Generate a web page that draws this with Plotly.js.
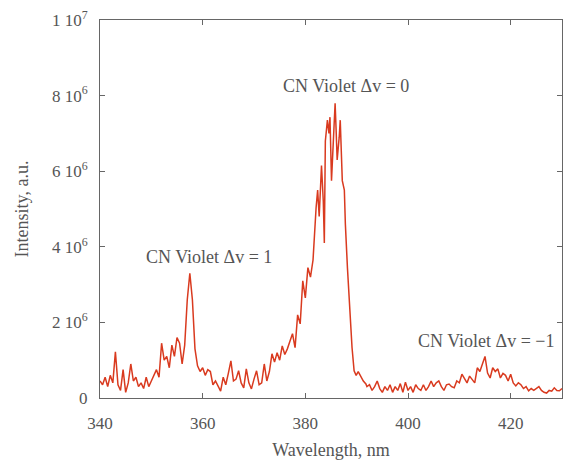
<!DOCTYPE html>
<html>
<head>
<meta charset="utf-8">
<script src="https://cdn.plot.ly/plotly-3.0.1.min.js"></script>
<style>html,body{margin:0;padding:0;background:#fff}#chart{width:566px;height:464px}</style>
</head>
<body>
<div id="chart"></div>
<script>
// Wavelength (nm)
var wavelength = [
340.0,340.5,341.0,341.5,342.0,342.5,343.0,343.5,344.0,344.5,345.0,345.5,346.0,346.5,347.0,347.5,348.0,348.5,349.0,349.5,
350.0,350.5,351.0,351.5,352.0,352.5,353.0,353.5,354.0,354.5,355.0,355.5,356.0,356.5,357.0,357.5,358.0,358.5,359.0,359.5,
360.0,360.5,361.0,361.5,362.0,362.5,363.0,363.5,364.0,364.5,365.0,365.5,366.0,366.5,367.0,367.5,368.0,368.5,369.0,369.5,
370.0,370.5,371.0,371.5,372.0,372.5,373.0,373.5,374.0,374.5,375.0,375.5,376.0,376.5,377.0,377.5,378.0,378.5,379.0,379.5,
380.0,380.5,381.0,381.5,382.1,382.4,382.7,383.0,383.15,383.5,383.7,383.9,384.3,384.6,384.8,385.1,385.4,385.8,386.0,386.2,
386.6,386.8,387.0,387.2,387.6,387.8,388.2,388.7,389.1,389.5,389.9,390.3,390.6,391.0,391.3,391.8,
392.0,392.5,393.0,393.5,394.0,394.5,395.0,395.5,396.0,396.5,397.0,397.5,398.0,398.5,399.0,399.5,
400.0,400.5,401.0,401.5,402.0,402.5,403.0,403.5,404.0,404.5,405.0,405.5,406.0,406.5,407.0,407.5,408.0,408.5,409.0,409.5,
410.0,410.5,411.0,411.5,412.0,412.5,413.0,413.5,414.0,414.5,415.0,415.5,416.0,416.5,417.0,417.5,418.0,418.5,419.0,419.5,
420.0,420.5,421.0,421.5,422.0,422.5,423.0,423.5,424.0,424.5,425.0,425.5,426.0,426.5,427.0,427.5,428.0,428.5,429.0,429.5,430.0
];
// Intensity (units of 1e6 a.u.)
var intensityM = [
0.45,0.35,0.55,0.30,0.60,0.40,1.22,0.35,0.20,0.75,0.15,0.40,0.90,0.45,0.55,0.30,0.40,0.25,0.55,0.30,
0.45,0.60,0.75,0.55,1.45,1.00,1.10,0.80,1.40,1.10,1.60,1.45,0.90,1.40,2.60,3.30,2.60,1.30,0.85,0.70,
0.80,0.60,0.75,0.70,0.35,0.45,0.30,0.18,0.55,0.35,0.65,0.98,0.45,0.50,0.72,0.40,0.27,0.77,0.40,0.24,
0.50,0.72,0.35,0.40,0.90,0.45,0.70,1.17,0.95,1.20,1.00,1.38,1.15,1.30,1.50,1.70,1.33,2.20,1.96,3.10,
2.65,3.45,3.20,3.65,5.04,5.50,4.80,5.75,6.15,5.20,4.10,6.80,7.35,7.00,7.43,5.75,6.74,7.80,7.08,6.30,
6.90,7.35,6.55,5.75,5.50,4.60,3.45,2.10,1.33,0.72,0.60,0.70,0.63,0.50,0.45,0.37,
0.30,0.35,0.20,0.30,0.45,0.25,0.15,0.30,0.20,0.35,0.15,0.30,0.20,0.38,0.15,0.42,
0.20,0.30,0.15,0.35,0.25,0.20,0.35,0.20,0.30,0.45,0.30,0.40,0.45,0.30,0.20,0.35,0.37,0.30,0.27,0.45,
0.40,0.63,0.50,0.40,0.58,0.50,0.40,0.80,0.70,0.90,1.10,0.66,0.53,0.80,0.70,0.77,0.53,0.65,0.60,0.45,
0.63,0.40,0.32,0.40,0.35,0.25,0.30,0.19,0.25,0.20,0.24,0.30,0.20,0.15,0.13,0.20,0.18,0.27,0.20,0.19,0.25
];
var yTickVals = [0, 2e6, 4e6, 6e6, 8e6, 1e7];
var yTickText = ["0", "2 10<sup>6</sup>", "4 10<sup>6</sup>", "6 10<sup>6</sup>", "8 10<sup>6</sup>", "1 10<sup>7</sup>"];
var xTickVals = [340, 360, 380, 400, 420];
var labelText = ["CN Violet Δv = 0", "CN Violet Δv = 1", "CN Violet Δv = −1"];
var labelX = [388, 361.2, 415.1];
var labelY = [8.25e6, 3.74e6, 1.51e6];

var intensity = intensityM.map(function(v){ return v * 1e6; });

var trace = {
  x: wavelength, y: intensity, type: 'scatter', mode: 'lines',
  line: {color: '#d93a1f', width: 1.5}, hoverinfo: 'none'
};

var annotations = labelText.map(function(t, i){
  return {x: labelX[i], y: labelY[i], xref: 'x', yref: 'y', text: t, showarrow: false,
    font: {family: 'Liberation Serif', size: 18, color: '#555'}};
});

var layout = {
  width: 566, height: 464,
  margin: {l: 100, r: 4, t: 20, b: 66},
  paper_bgcolor: '#fff', plot_bgcolor: '#fff',
  font: {family: 'Liberation Serif', size: 17, color: '#555'},
  showlegend: false,
  xaxis: {
    range: [340, 430], tickvals: xTickVals, ticks: 'inside', ticklen: 5, tickcolor: '#666',
    showline: true, linecolor: '#666', linewidth: 1, mirror: 'ticks', showgrid: false, zeroline: false,
    ticklabelstandoff: 10, automargin: false,
    title: {text: 'Wavelength, nm', standoff: 10, font: {size: 18, color: '#555'}},
    tickfont: {size: 17, color: '#555'}
  },
  yaxis: {
    range: [0, 1e7], tickvals: yTickVals, ticktext: yTickText, ticks: 'inside', ticklen: 5, tickcolor: '#666',
    showline: true, linecolor: '#666', linewidth: 1, mirror: 'ticks', showgrid: false, zeroline: false,
    ticklabelstandoff: 8, automargin: false,
    title: {text: 'Intensity, a.u.', standoff: 18, font: {size: 18, color: '#555'}},
    tickfont: {size: 17, color: '#555'}
  },
  annotations: annotations
};

Plotly.newPlot('chart', [trace], layout, {displayModeBar: false, staticPlot: true});
</script>
</body>
</html>
